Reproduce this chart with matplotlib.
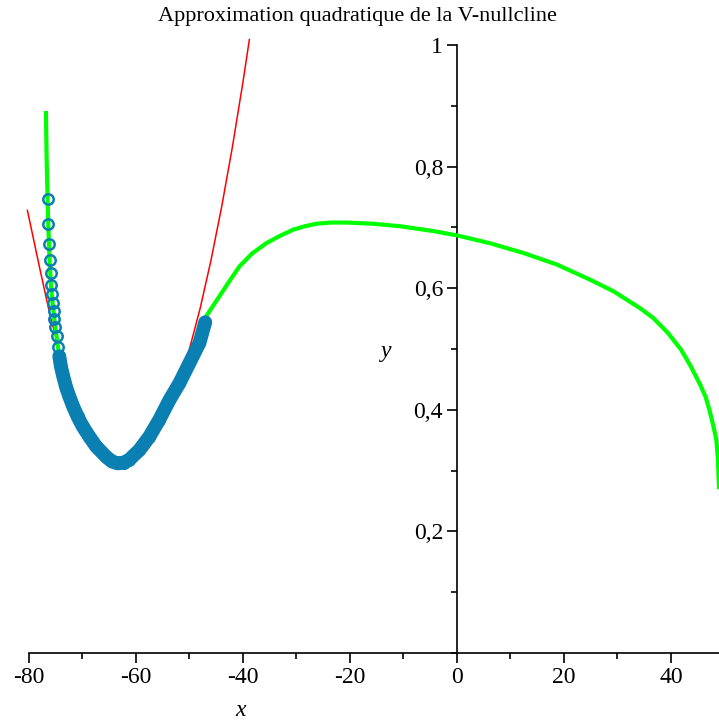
import matplotlib.pyplot as plt
from matplotlib.ticker import MultipleLocator, FixedLocator

plt.rcParams["font.family"] = ["Liberation Serif", "DejaVu Serif"]

# V-nullcline (green)
nullcline_x = [-76.83, -76.70, -76.52, -76.40, -76.16, -75.90, -75.60, -75.28, -74.85, -74.34,
               -73.60, -72.47, -70.92, -68.73, -65.60, -63.43, -61.24, -57.49, -53.75, -50.00,
               -47.06, -46.87, -44.38, -42.5, -40.64, -38.3, -35.64, -33.1, -30.66, -28.4,
               -26.27, -23.5, -20.66, -15.67, -10.67, -4.44, -0.06, 6.18, 12.42, 18.67,
               24.91, 29.27, 34.27, 36.7, 39.4, 41.9, 43.7, 45.5, 46.5, 47.2,
               47.9, 48.5, 48.8, 49.0]
nullcline_y = [0.888, 0.810, 0.746, 0.705, 0.647, 0.606, 0.576, 0.550, 0.521, 0.488,
               0.455, 0.422, 0.389, 0.356, 0.323, 0.312, 0.318, 0.356, 0.416, 0.477,
               0.544, 0.554, 0.587, 0.612, 0.636, 0.657, 0.674, 0.686, 0.696, 0.702,
               0.706, 0.708, 0.708, 0.706, 0.702, 0.694, 0.687, 0.674, 0.658, 0.639,
               0.614, 0.595, 0.567, 0.551, 0.527, 0.499, 0.472, 0.441, 0.421, 0.400,
               0.375, 0.351, 0.318, 0.273]

# quadratic approximation (red)
quad_x = [-80.3, -78, -76, -74, -72, -70, -68, -66, -64, -62, -60, -58, -56, -54,
          -52, -50, -48, -46, -44, -42, -40, -38.8]
quad_y = [0.728, 0.633, 0.553, 0.488, 0.433, 0.388, 0.353, 0.328, 0.314, 0.310,
          0.316, 0.333, 0.359, 0.396, 0.443, 0.500, 0.567, 0.645, 0.733, 0.831,
          0.939, 1.009]

# sampled points on the nullcline (blue)
pts_x = [-76.52, -76.40, -76.27, -76.16, -75.97, -75.90, -75.79, -75.60, -75.41, -75.28,
         -75.09, -74.85, -74.59, -74.34, -74.03, -73.60, -73.09, -72.47, -71.72, -70.92,
         -69.98, -68.73, -67.47, -65.60, -64.50, -63.43, -62.30, -61.24, -59.36, -57.49,
         -55.62, -53.75, -51.87, -50.00, -48.13, -47.06]
pts_y = [0.746, 0.705, 0.673, 0.647, 0.625, 0.606, 0.590, 0.576, 0.562, 0.550,
         0.537, 0.521, 0.504, 0.488, 0.471, 0.455, 0.438, 0.422, 0.405, 0.389,
         0.373, 0.356, 0.340, 0.323, 0.315, 0.312, 0.313, 0.318, 0.334, 0.356,
         0.384, 0.416, 0.444, 0.477, 0.510, 0.544]
n_sparse = 13

xticks = [-80, -60, -40, -20, 0, 20, 40]
xlabels = ["-80", "-60", "-40", "-20", "0", "20", "40"]
yticks = [0.2, 0.4, 0.6, 0.8, 1.0]
ylabels = ["0,2", "0,4", "0,6", "0,8", "1"]

blue = "#0a80b2"

fig = plt.figure(figsize=(7.19, 7.22), dpi=100)
ax = fig.add_axes([29 / 719, 69 / 722, 690 / 719, 608 / 722])
ax.set_xlim(-80, 49)
ax.set_ylim(0, 1)

ax.plot(quad_x, quad_y, color="#ff0000", lw=1.1, clip_on=False, zorder=2)
ax.plot(nullcline_x, nullcline_y, color="#00ff00", lw=3, clip_on=False, zorder=3,
        solid_joinstyle="round")
ax.plot(pts_x[n_sparse:], pts_y[n_sparse:], color=blue, lw=10,
        solid_capstyle="round", solid_joinstyle="round", zorder=4)
ax.plot(pts_x, pts_y, "o", ms=7.5, mfc="none", mec=blue, mew=1.8, zorder=5)

ax.spines["top"].set_visible(False)
ax.spines["right"].set_visible(False)
ax.spines["left"].set_position(("data", 0))
ax.spines["bottom"].set_position(("data", 0))
for s in ("left", "bottom"):
    ax.spines[s].set_linewidth(1.2)

ax.xaxis.set_major_locator(FixedLocator(xticks))
ax.set_xticklabels(xlabels)
ax.xaxis.set_minor_locator(MultipleLocator(10))
ax.yaxis.set_major_locator(FixedLocator(yticks))
ax.set_yticklabels(ylabels)
ax.yaxis.set_minor_locator(MultipleLocator(0.1))

ax.tick_params(axis="x", which="major", direction="out", length=7, width=1.2,
               labelsize=17, pad=3)
ax.tick_params(axis="x", which="minor", direction="out", length=4, width=1.2)
ax.tick_params(axis="y", which="major", direction="out", length=7, width=1.2,
               labelsize=17, pad=3)
ax.tick_params(axis="y", which="minor", direction="out", length=4, width=1.2)

fig.text(357 / 719, 1 - 16 / 722, "Approximation quadratique de la V-nullcline",
         ha="center", va="center", fontsize=16)
fig.text(241 / 719, 1 - 711 / 722, "x", ha="center", va="center", fontsize=17,
         style="italic")
fig.text(386 / 719, 1 - 352 / 722, "y", ha="center", va="center", fontsize=17,
         style="italic")

fig.savefig("out.png", dpi=100)
